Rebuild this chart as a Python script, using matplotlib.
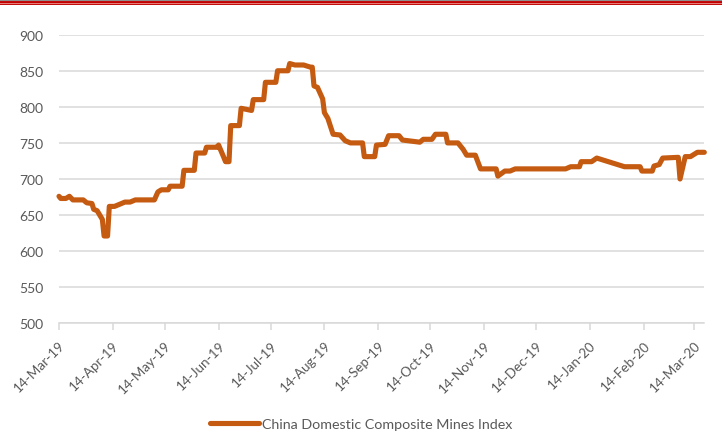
import pandas as pd
import matplotlib.pyplot as plt
import matplotlib.dates as mdates
from matplotlib.lines import Line2D

dates = [
    "2019-03-14", "2019-03-15", "2019-03-18", "2019-03-20", "2019-03-22",
    "2019-03-28", "2019-03-30", "2019-04-02", "2019-04-03", "2019-04-05",
    "2019-04-08", "2019-04-09", "2019-04-11", "2019-04-12", "2019-04-15",
    "2019-04-18", "2019-04-21", "2019-04-24", "2019-04-27", "2019-05-08",
    "2019-05-10", "2019-05-12", "2019-05-16", "2019-05-17", "2019-05-24",
    "2019-05-25", "2019-05-31", "2019-06-01", "2019-06-06", "2019-06-07",
    "2019-06-13", "2019-06-14", "2019-06-17", "2019-06-18", "2019-06-20",
    "2019-06-21", "2019-06-26", "2019-06-27", "2019-07-03", "2019-07-04",
    "2019-07-10", "2019-07-11", "2019-07-17", "2019-07-18", "2019-07-24",
    "2019-07-25", "2019-07-28", "2019-08-02", "2019-08-06", "2019-08-07",
    "2019-08-08", "2019-08-10", "2019-08-13", "2019-08-14", "2019-08-16",
    "2019-08-19", "2019-08-23", "2019-08-26", "2019-08-29", "2019-09-05",
    "2019-09-06", "2019-09-12", "2019-09-13", "2019-09-18", "2019-09-20",
    "2019-09-26", "2019-09-28", "2019-10-08", "2019-10-10", "2019-10-15",
    "2019-10-17", "2019-10-23", "2019-10-24", "2019-10-30", "2019-11-02",
    "2019-11-04", "2019-11-09", "2019-11-12", "2019-11-21", "2019-11-22",
    "2019-11-26", "2019-11-29", "2019-12-02", "2019-12-31", "2020-01-03",
    "2020-01-08", "2020-01-09", "2020-01-15", "2020-01-18", "2020-02-03",
    "2020-02-12", "2020-02-13", "2020-02-19", "2020-02-20", "2020-02-23",
    "2020-02-25", "2020-03-05", "2020-03-06", "2020-03-09", "2020-03-12",
    "2020-03-16", "2020-03-20",
]
index_values = [
    676, 673, 673, 676, 671,
    671, 667, 666, 658, 656,
    644, 621, 621, 662, 662,
    665, 668, 668, 671, 671,
    682, 685, 685, 690, 690,
    712, 712, 736, 736, 744,
    744, 747, 730, 724, 724,
    774, 774, 798, 795, 810,
    810, 834, 834, 850, 850,
    860, 858, 858, 855, 855,
    829, 827, 811, 792, 784,
    762, 761, 753, 750, 750,
    731, 731, 747, 748, 760,
    760, 754, 751, 755, 755,
    762, 762, 750, 750, 741,
    733, 733, 714, 714, 704,
    711, 711, 714, 714, 717,
    717, 724, 724, 729, 717,
    717, 711, 711, 718, 720,
    729, 730, 700, 731, 731,
    737, 737,
]
tick_dates = pd.date_range("2019-03-01", "2020-03-01", freq="MS") + pd.Timedelta(days=13)
series_name = "China Domestic Composite Mines Index"

x = pd.to_datetime(dates)
line_color = "#C55A11"
text_color = "#595959"
grid_color = "#D9D9D9"

plt.rcParams["font.family"] = ["Lato", "DejaVu Sans"]

fig = plt.figure(figsize=(7.22, 4.39), dpi=100)
ax = fig.add_axes([0.0817, 0.2613, 0.8938, 0.6574])

ax.plot(x, index_values, color=line_color, lw=3.7, solid_joinstyle="round",
        solid_capstyle="round", label=series_name, zorder=3, clip_on=False)

ax.set_ylim(500, 900)
ax.set_yticks(range(500, 901, 50))
ax.set_xlim(pd.Timestamp("2019-03-14"), pd.Timestamp("2020-03-20"))
ax.set_xticks(tick_dates)
ax.xaxis.set_major_formatter(mdates.DateFormatter("%d-%b-%y"))

ax.grid(axis="y", color=grid_color, lw=1.1)
ax.set_axisbelow(True)
for side in ["left", "right", "top"]:
    ax.spines[side].set_visible(False)
ax.spines["bottom"].set_color(grid_color)
ax.spines["bottom"].set_linewidth(1.1)

ax.tick_params(axis="y", length=0, pad=11, labelsize=10, labelcolor=text_color)
ax.tick_params(axis="x", length=5, width=1.1, color=grid_color, pad=6,
               labelsize=9.7, labelcolor=text_color)
plt.setp(ax.get_xticklabels(), rotation=45, ha="right", rotation_mode="anchor")

leg = fig.legend(handles=[Line2D([], [], color=line_color, lw=3.7, solid_capstyle="round")],
                 labels=[series_name], loc="center", bbox_to_anchor=(0.5, 0.033),
                 frameon=False, fontsize=10.3, handlelength=3.4, handletextpad=0.2)
for t in leg.get_texts():
    t.set_color(text_color)

# header rule
fig.add_artist(Line2D([0, 1], [0.998, 0.998], color="#8C8C8C", lw=1.4))
fig.add_artist(Line2D([0, 1], [0.991, 0.991], color="#C00000", lw=2.8))
fig.add_artist(Line2D([0, 1], [0.991, 0.991], color="#E88080", lw=0.7))

fig.savefig("out.png", dpi=100)
